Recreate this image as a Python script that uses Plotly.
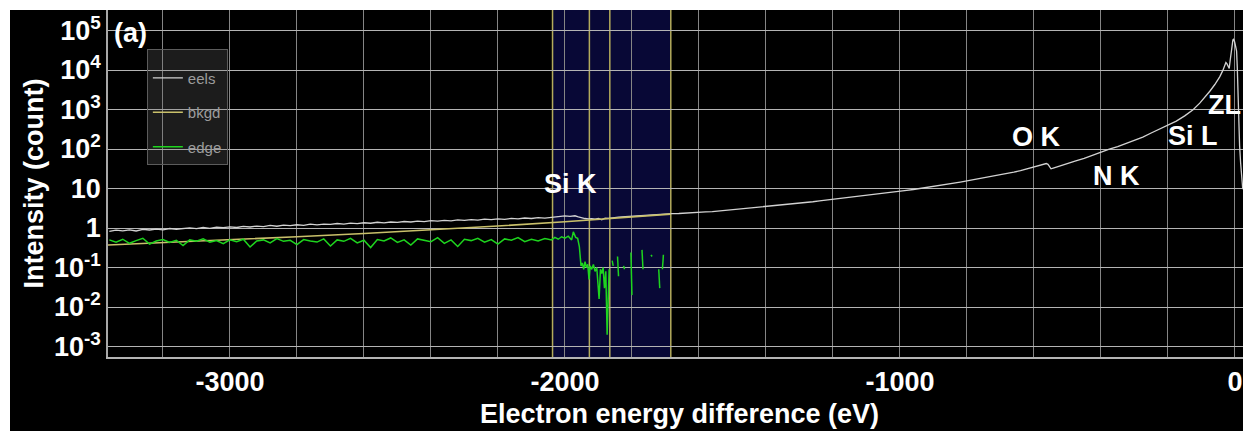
import plotly.graph_objects as go

# ---------------- data ----------------
eels_energy = [
    -3360, -3340, -3320, -3300, -3280, -3260, -3240, -3220, -3200, -3180,
    -3160, -3140, -3120, -3100, -3080, -3060, -3040, -3020, -3000, -2980,
    -2960, -2940, -2920, -2900, -2880, -2860, -2840, -2820, -2800, -2780,
    -2760, -2740, -2720, -2700, -2680, -2660, -2640, -2620, -2600, -2580,
    -2560, -2540, -2520, -2500, -2480, -2460, -2440, -2420, -2400, -2380,
    -2360, -2340, -2320, -2300, -2280, -2260, -2240, -2220, -2200, -2180,
    -2160, -2140, -2120, -2100, -2080, -2060, -2040, -2020, -2000, -1985,
    -1970, -1960, -1950, -1940, -1930, -1920, -1910, -1900, -1890, -1880,
    -1870, -1860, -1840, -1820, -1800, -1780, -1760, -1740, -1720, -1700,
    -1680, -1660, -1640, -1620, -1600, -1580, -1560, -1540, -1520, -1500,
    -1480, -1460, -1440, -1420, -1400, -1380, -1360, -1340, -1320, -1300,
    -1280, -1260, -1240, -1220, -1200, -1180, -1160, -1140, -1120, -1100,
    -1080, -1060, -1040, -1020, -1000, -980, -960, -940, -920, -900,
    -880, -860, -840, -820, -800, -780, -760, -740, -720, -700,
    -680, -660, -640, -620, -600, -585, -572, -563, -558, -553,
    -549, -540, -525, -500, -475, -450, -425, -400, -375, -350,
    -325, -300, -275, -250, -225, -200, -175, -150, -125, -105,
    -90, -75, -60, -45, -36, -30, -27, -24, -20, -17,
    -14, -10, -6, -4, -1, 2, 5, 7, 9, 11,
    14, 17, 20, 23, 28, 35, 46,
]
eels_counts = [
    0.82, 0.88, 0.85, 0.90, 0.84, 0.92, 0.89, 0.94, 0.90, 0.97,
    0.93, 0.96, 1.01, 0.97, 1.03, 0.98, 1.05, 1.02, 1.07, 1.03,
    1.10, 1.06, 1.12, 1.09, 1.16, 1.11, 1.18, 1.15, 1.21, 1.17,
    1.25, 1.20, 1.26, 1.23, 1.30, 1.26, 1.33, 1.29, 1.36, 1.32,
    1.40, 1.35, 1.42, 1.39, 1.46, 1.42, 1.50, 1.45, 1.53, 1.49,
    1.56, 1.52, 1.60, 1.56, 1.64, 1.59, 1.67, 1.63, 1.71, 1.66,
    1.75, 1.70, 1.79, 1.74, 1.83, 1.78, 1.88, 1.95, 2.02, 1.97,
    2.04, 1.92, 1.80, 1.74, 1.70, 1.73, 1.68, 1.75, 1.62, 1.78,
    1.76, 1.82, 1.88, 1.93, 1.99, 2.03, 2.10, 2.12, 2.20, 2.24,
    2.30, 2.33, 2.36, 2.44, 2.48, 2.55, 2.60, 2.70, 2.76, 2.88,
    2.95, 3.10, 3.18, 3.40, 3.50, 3.62, 3.78, 3.95, 4.15, 4.30,
    4.48, 4.62, 4.88, 5.10, 5.30, 5.62, 5.85, 6.15, 6.45, 6.80,
    7.10, 7.40, 7.80, 8.10, 8.45, 8.95, 9.45, 10.0, 10.7, 11.4,
    12.1, 12.9, 13.7, 14.6, 15.6, 16.7, 17.8, 19.0, 20.6, 22.3,
    24.0, 26.0, 28.3, 31.5, 34.5, 37.5, 40.5, 43.0, 41.0, 34.0,
    31.5, 33.5, 37.0, 43.0, 50.0, 58.0, 70.0, 85.0, 99.0, 115,
    137, 165, 200, 255, 318, 400, 510, 690, 990, 1450,
    2000, 2900, 4300, 6800, 9800, 13500, 15500, 14500, 11500, 11000,
    18000, 40000, 58000, 60000, 52000, 40000, 30000, 12000, 2500, 600,
    120, 45, 18, 10.5, 8.5, 7.5, 6.2,
]

bkgd_energy = [-3364, -3200, -3000, -2800, -2600, -2400, -2200, -2000, -1900, -1800, -1684]
bkgd_counts = [0.372, 0.424, 0.501, 0.599, 0.726, 0.895, 1.12, 1.44, 1.64, 1.89, 2.25]

edge_energy = [
    -3360, -3340, -3320, -3300, -3280, -3260, -3240, -3220, -3200, -3180,
    -3160, -3140, -3120, -3100, -3080, -3060, -3040, -3020, -3000, -2980,
    -2960, -2940, -2920, -2900, -2880, -2860, -2840, -2820, -2800, -2780,
    -2760, -2740, -2720, -2700, -2680, -2660, -2640, -2620, -2600, -2580,
    -2560, -2540, -2520, -2500, -2480, -2460, -2440, -2420, -2400, -2380,
    -2360, -2340, -2320, -2300, -2280, -2260, -2240, -2220, -2200, -2180,
    -2160, -2140, -2120, -2100, -2080, -2060, -2040, -2030, -2020, -2010,
    -2000, -1990, -1980, -1975, -1968, -1962, -1957, -1952, -1948, -1944,
    -1940, -1936, -1932, -1928, -1925, -1920, -1915, -1910, -1905, -1898,
    -1894, -1890, -1886, -1882, -1878, -1874, -1871, -1868, -1866,
    -1859, -1856, -1854,
    -1843, -1840, -1838,
    -1825, -1822, -1820,
    -1803, -1800, -1798,
    -1770, -1767, -1765,
    -1743, -1740, -1738,
    -1720, -1717, -1715,
    -1709, -1706,
]
edge_counts = [
    0.50, 0.44, 0.52, 0.41, 0.48, 0.55, 0.39, 0.47, 0.51, 0.43,
    0.49, 0.36, 0.50, 0.46, 0.53, 0.44, 0.48, 0.40, 0.50, 0.45,
    0.52, 0.33, 0.47, 0.50, 0.42, 0.54, 0.46, 0.49, 0.38, 0.51,
    0.47, 0.44, 0.53, 0.35, 0.50, 0.46, 0.55, 0.42, 0.49, 0.32,
    0.51, 0.47, 0.56, 0.43, 0.50, 0.37, 0.53, 0.48, 0.45, 0.57,
    0.41, 0.50, 0.34, 0.52, 0.48, 0.55, 0.44, 0.51, 0.39, 0.53,
    0.49, 0.57, 0.45, 0.52, 0.47, 0.54, 0.50, 0.58, 0.52, 0.60,
    0.55, 0.62, 0.50, 0.80, 0.58, 0.55, 0.34, 0.11, 0.13, 0.09,
    0.14, 0.10, 0.12, 0.05, 0.11, 0.09, 0.12, 0.08, 0.10, 0.016,
    0.09, 0.07, 0.10, 0.03, 0.08, 0.002, 0.04, 0.09, None,
    0.15, 0.11, None,
    0.19, 0.06, None,
    0.11, 0.09, None,
    0.24, 0.02, None,
    0.28, 0.09, None,
    0.21, 0.19, None,
    0.09, 0.03, None,
    0.09, 0.21,
]

window_edges = [-2037, -1927, -1866, -1684]

x_tick_vals = [-3000, -2000, -1000, 0]
x_tick_text = ["-3000", "-2000", "-1000", "0"]
y_tick_vals = [1e-3, 1e-2, 1e-1, 1, 10, 100, 1e3, 1e4, 1e5]
y_tick_text = ["10<sup>-3</sup>", "10<sup>-2</sup>", "10<sup>-1</sup>", "1", "10",
               "10<sup>2</sup>", "10<sup>3</sup>", "10<sup>4</sup>", "10<sup>5</sup>"]

edge_labels = ["Si K", "O K", "N K", "Si L", "ZL"]

# ---------------- figure ----------------
# the page body adds an 8px margin, so the figure is 8px smaller and offset
FONT = "Liberation Sans"
fig = go.Figure()
fig.add_trace(go.Scatter(x=eels_energy, y=eels_counts, mode="lines", name="eels",
                         legendgroup="a", line=dict(color="#d2d2d2", width=1.3)))
fig.add_trace(go.Scatter(x=bkgd_energy, y=bkgd_counts, mode="lines", name="bkgd",
                         legendgroup="b", line=dict(color="#c9c06a", width=1.6)))
fig.add_trace(go.Scatter(x=edge_energy, y=edge_counts, mode="lines", name="edge",
                         legendgroup="c", connectgaps=False,
                         line=dict(color="#1ed41e", width=1.5)))

shapes = [
    dict(type="rect", xref="paper", yref="paper", x0=-98 / 1143, x1=1.01,
         y0=-80 / 347, y1=1.0, fillcolor="black", line=dict(width=0), layer="below"),
    dict(type="rect", xref="x", yref="paper", x0=window_edges[0], x1=window_edges[-1],
         y0=0, y1=1, fillcolor="#080836", line=dict(width=0), layer="below"),
]
for xe in window_edges:
    shapes.append(dict(type="line", xref="x", yref="paper", x0=xe, x1=xe, y0=0, y1=1,
                       line=dict(color="#b3ab5c", width=1.5), layer="between"))

lab_font = dict(family=FONT, size=27, color="white", weight="bold")
ann_pos = [(-1982, 1.11), (-591, 2.30), (-355, 1.32), (-125, 2.33), (-30, 3.11)]
annotations = [dict(x=px, y=py, xref="x", yref="y", text=t, showarrow=False, font=lab_font)
               for t, (px, py) in zip(edge_labels, ann_pos)]
annotations.append(dict(x=-3296, y=4.94, xref="x", yref="y", text="(a)",
                        showarrow=False, font=lab_font))

fig.update_layout(
    width=1243, height=423,
    margin=dict(l=100, r=0, t=2, b=74),
    paper_bgcolor="white", plot_bgcolor="black",
    shapes=shapes, annotations=annotations,
    showlegend=True,
    legend=dict(x=0.034, y=0.888, xanchor="left", yanchor="top",
                bgcolor="rgba(110,110,110,0.25)", bordercolor="#5c5c5c", borderwidth=1,
                font=dict(family=FONT, size=15, color="#9c9c9c"),
                title=dict(text=" ", font=dict(size=9)),
                tracegroupgap=12, itemwidth=30, traceorder="grouped"),
    xaxis=dict(range=[-3364, 48], tickmode="array", tickvals=x_tick_vals, ticktext=x_tick_text,
               showgrid=True, gridcolor="#858585", gridwidth=1, zeroline=False,
               minor=dict(tickmode="linear", tick0=0, dtick=200, showgrid=True,
                          gridcolor="#858585", gridwidth=1),
               showline=True, linecolor="#b4b4b4", linewidth=2, ticks="",
               tickfont=dict(family=FONT, size=27, color="white", weight="bold"),
               title=dict(text="Electron energy difference (eV)", standoff=8,
                          font=dict(family=FONT, size=27, color="white", weight="bold")),
               automargin=False),
    yaxis=dict(type="log", range=[-3.266, 5.52], tickmode="array", tickvals=y_tick_vals,
               ticktext=y_tick_text, showgrid=True, gridcolor="#b4b4b4", gridwidth=1.3,
               zeroline=False, showline=True, linecolor="#a8a8a8", linewidth=1.5, ticks="",
               tickfont=dict(family=FONT, size=27, color="white", weight="bold"),
               title=dict(text="Intensity (count)", standoff=3,
                          font=dict(family=FONT, size=27, color="white", weight="bold")),
               automargin=False),
)

fig.write_html("out.html")
